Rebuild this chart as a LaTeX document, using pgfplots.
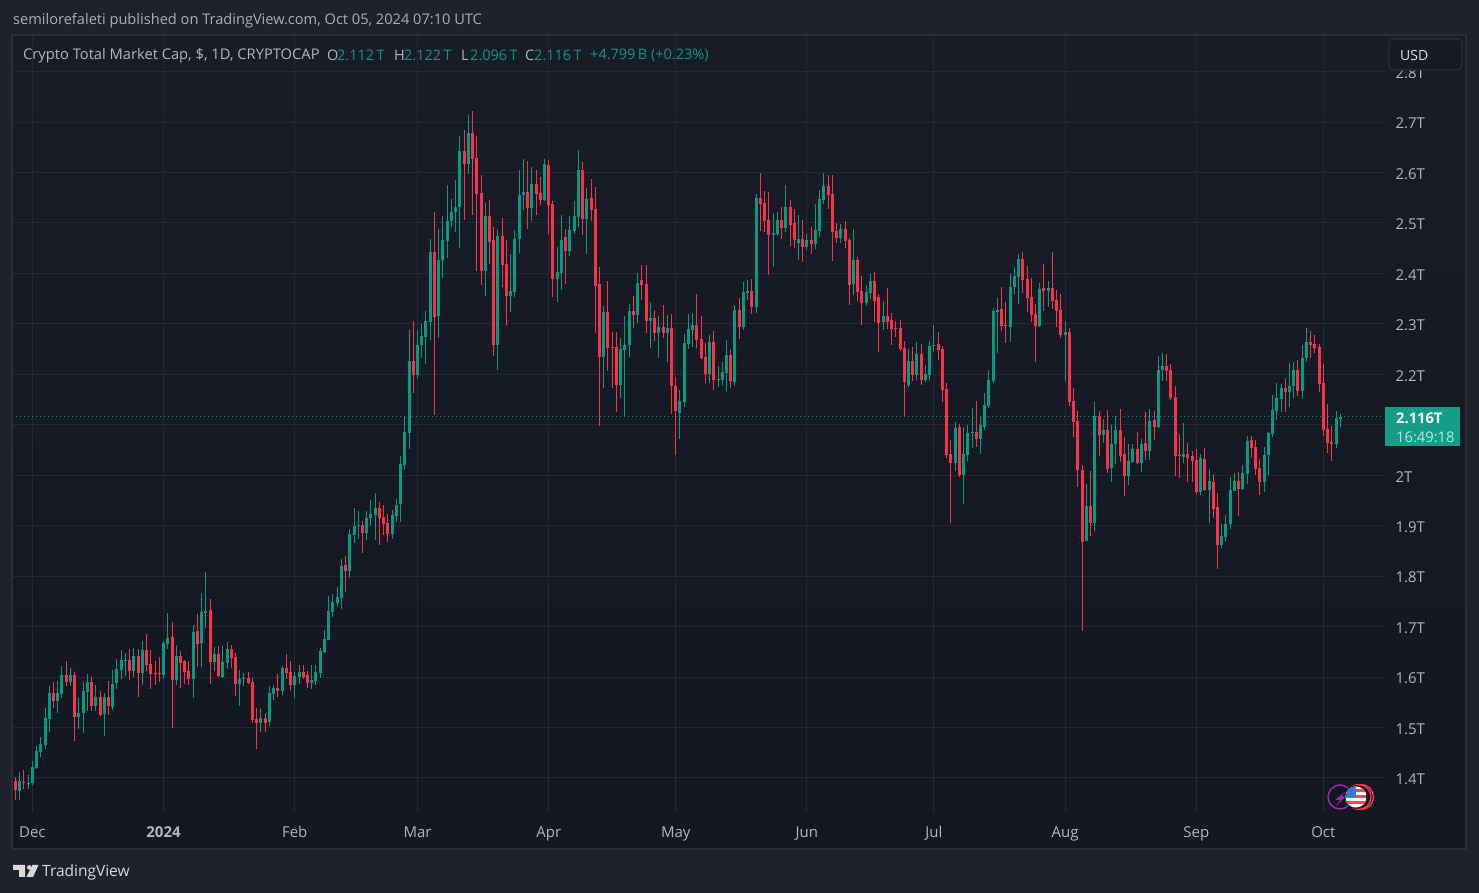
\documentclass[border=0pt]{standalone}
\usepackage{pgfplots}
\usepackage{pgfplotstable}
\usepackage{fontspec}
\setmainfont{Open Sans}
\pgfplotsset{compat=1.18}
\definecolor{outerbg}{HTML}{1E222D}
\definecolor{framec}{HTML}{2A2E39}
\definecolor{gridc}{HTML}{242833}
\definecolor{upc}{HTML}{089981}
\definecolor{dnc}{HTML}{F7324A}
\definecolor{labc}{HTML}{B2B5BE}
\definecolor{innertop}{HTML}{181C27}
\definecolor{innerbot}{HTML}{131722}
\definecolor{evpurple}{HTML}{9C27B0}
\definecolor{flagblue}{HTML}{3278E6}
\definecolor{btnbg}{HTML}{161A25}
\pgfplotstableread{
i o h l c
0 1.395 1.402 1.357 1.377
1 1.375 1.411 1.357 1.395
2 1.393 1.415 1.379 1.391
3 1.389 1.405 1.379 1.391
4 1.391 1.433 1.387 1.421
5 1.419 1.463 1.417 1.453
6 1.451 1.481 1.441 1.467
7 1.465 1.538 1.457 1.518
8 1.516 1.582 1.491 1.568
9 1.568 1.590 1.538 1.552
10 1.552 1.592 1.528 1.568
11 1.566 1.622 1.558 1.604
12 1.604 1.632 1.582 1.590
13 1.590 1.618 1.582 1.604
14 1.604 1.610 1.473 1.520
15 1.520 1.558 1.497 1.528
16 1.528 1.592 1.489 1.572
17 1.570 1.606 1.532 1.590
18 1.590 1.600 1.532 1.542
19 1.542 1.584 1.532 1.560
20 1.560 1.572 1.522 1.524
21 1.526 1.568 1.483 1.560
22 1.560 1.592 1.524 1.542
23 1.540 1.614 1.534 1.586
24 1.588 1.636 1.576 1.616
25 1.614 1.653 1.596 1.634
26 1.632 1.647 1.602 1.634
27 1.634 1.655 1.594 1.612
28 1.612 1.657 1.600 1.641
29 1.641 1.655 1.560 1.608
30 1.608 1.671 1.584 1.653
31 1.653 1.685 1.612 1.624
32 1.626 1.653 1.576 1.606
33 1.608 1.632 1.584 1.606
34 1.608 1.640 1.590 1.606
35 1.604 1.671 1.596 1.667
36 1.665 1.727 1.655 1.677
37 1.679 1.709 1.500 1.594
38 1.594 1.663 1.584 1.641
39 1.641 1.651 1.578 1.628
40 1.632 1.634 1.586 1.610
41 1.612 1.632 1.584 1.596
42 1.596 1.703 1.558 1.689
43 1.691 1.725 1.620 1.665
44 1.667 1.765 1.620 1.729
45 1.727 1.808 1.697 1.731
46 1.733 1.755 1.586 1.630
47 1.630 1.659 1.612 1.645
48 1.645 1.661 1.600 1.602
49 1.601 1.661 1.599 1.629
50 1.627 1.669 1.616 1.655
51 1.655 1.663 1.618 1.637
52 1.639 1.647 1.562 1.586
53 1.586 1.614 1.542 1.596
54 1.596 1.608 1.582 1.598
55 1.598 1.610 1.586 1.588
56 1.590 1.598 1.508 1.514
57 1.516 1.538 1.457 1.508
58 1.508 1.536 1.491 1.518
59 1.518 1.528 1.491 1.508
60 1.510 1.582 1.503 1.568
61 1.566 1.584 1.554 1.578
62 1.578 1.606 1.560 1.572
63 1.572 1.622 1.564 1.618
64 1.618 1.645 1.596 1.608
65 1.610 1.631 1.572 1.584
66 1.584 1.610 1.558 1.602
67 1.600 1.623 1.586 1.610
68 1.610 1.623 1.596 1.600
69 1.604 1.612 1.578 1.588
70 1.588 1.623 1.576 1.594
71 1.592 1.623 1.584 1.610
72 1.608 1.657 1.598 1.651
73 1.649 1.693 1.647 1.675
74 1.673 1.760 1.673 1.731
75 1.729 1.764 1.719 1.748
76 1.746 1.778 1.738 1.758
77 1.756 1.834 1.735 1.820
78 1.822 1.840 1.768 1.810
79 1.810 1.893 1.796 1.883
80 1.881 1.935 1.865 1.899
81 1.899 1.929 1.873 1.901
82 1.901 1.909 1.846 1.885
83 1.885 1.929 1.871 1.915
84 1.915 1.951 1.899 1.923
85 1.921 1.965 1.871 1.935
86 1.935 1.947 1.861 1.915
87 1.917 1.941 1.881 1.903
88 1.905 1.923 1.867 1.883
89 1.883 1.931 1.873 1.921
90 1.919 1.953 1.907 1.941
91 1.943 2.038 1.907 2.022
92 2.020 2.115 2.010 2.086
93 2.083 2.287 2.051 2.226
94 2.226 2.305 2.162 2.198
95 2.198 2.287 2.190 2.259
96 2.259 2.299 2.232 2.275
97 2.273 2.325 2.220 2.305
98 2.303 2.468 2.269 2.442
99 2.442 2.522 2.120 2.313
100 2.315 2.488 2.271 2.426
101 2.426 2.514 2.390 2.466
102 2.464 2.575 2.430 2.504
103 2.504 2.547 2.492 2.522
104 2.522 2.585 2.482 2.532
105 2.532 2.673 2.450 2.643
106 2.643 2.684 2.506 2.617
107 2.617 2.714 2.597 2.678
108 2.678 2.722 2.516 2.627
109 2.629 2.673 2.404 2.557
110 2.559 2.595 2.377 2.404
111 2.404 2.539 2.355 2.514
112 2.514 2.545 2.418 2.462
113 2.466 2.492 2.236 2.259
114 2.259 2.488 2.208 2.474
115 2.474 2.510 2.373 2.416
116 2.418 2.466 2.295 2.355
117 2.355 2.438 2.323 2.365
118 2.363 2.486 2.353 2.468
119 2.468 2.605 2.440 2.555
120 2.555 2.627 2.526 2.561
121 2.561 2.623 2.488 2.530
122 2.530 2.611 2.504 2.577
123 2.577 2.605 2.516 2.557
124 2.559 2.591 2.535 2.545
125 2.545 2.627 2.543 2.617
126 2.615 2.625 2.478 2.535
127 2.537 2.543 2.353 2.389
128 2.389 2.452 2.343 2.402
129 2.400 2.516 2.367 2.466
130 2.472 2.488 2.379 2.444
131 2.444 2.514 2.434 2.486
132 2.484 2.543 2.478 2.514
133 2.512 2.645 2.492 2.605
134 2.605 2.621 2.476 2.508
135 2.508 2.569 2.438 2.547
136 2.549 2.587 2.504 2.526
137 2.527 2.571 2.281 2.375
138 2.379 2.412 2.097 2.234
139 2.234 2.335 2.172 2.323
140 2.323 2.385 2.206 2.252
141 2.254 2.283 2.172 2.252
142 2.254 2.283 2.125 2.178
143 2.178 2.272 2.153 2.250
144 2.248 2.315 2.115 2.258
145 2.258 2.339 2.234 2.325
146 2.325 2.355 2.291 2.317
147 2.317 2.400 2.301 2.381
148 2.387 2.416 2.347 2.377
149 2.379 2.416 2.281 2.305
150 2.305 2.343 2.252 2.311
151 2.311 2.327 2.266 2.281
152 2.281 2.315 2.232 2.293
153 2.293 2.337 2.272 2.281
154 2.281 2.317 2.224 2.291
155 2.291 2.319 2.121 2.176
156 2.176 2.194 2.041 2.127
157 2.123 2.168 2.071 2.147
158 2.145 2.279 2.135 2.262
159 2.260 2.319 2.250 2.289
160 2.287 2.321 2.254 2.297
161 2.297 2.359 2.252 2.268
162 2.270 2.315 2.230 2.232
163 2.234 2.262 2.182 2.200
164 2.200 2.277 2.182 2.264
165 2.264 2.285 2.168 2.188
166 2.188 2.216 2.174 2.190
167 2.188 2.224 2.178 2.204
168 2.202 2.268 2.164 2.238
169 2.238 2.250 2.172 2.186
170 2.184 2.337 2.176 2.327
171 2.327 2.351 2.270 2.293
172 2.293 2.383 2.287 2.363
173 2.361 2.387 2.347 2.365
174 2.365 2.389 2.319 2.333
175 2.333 2.557 2.321 2.549
176 2.549 2.599 2.484 2.537
177 2.539 2.563 2.482 2.504
178 2.506 2.561 2.396 2.476
179 2.476 2.519 2.412 2.480
180 2.478 2.521 2.474 2.506
181 2.506 2.531 2.468 2.490
182 2.490 2.575 2.482 2.531
183 2.531 2.545 2.454 2.496
184 2.500 2.527 2.450 2.466
185 2.460 2.515 2.426 2.468
186 2.468 2.506 2.422 2.452
187 2.452 2.478 2.446 2.466
188 2.466 2.492 2.438 2.458
189 2.458 2.537 2.448 2.486
190 2.484 2.565 2.472 2.547
191 2.545 2.599 2.537 2.573
192 2.573 2.595 2.527 2.555
193 2.557 2.595 2.424 2.482
194 2.484 2.500 2.460 2.470
195 2.470 2.498 2.460 2.488
196 2.488 2.504 2.450 2.464
197 2.466 2.470 2.337 2.377
198 2.379 2.488 2.357 2.426
199 2.426 2.432 2.345 2.363
200 2.365 2.394 2.297 2.341
201 2.341 2.377 2.335 2.363
202 2.361 2.398 2.349 2.385
203 2.385 2.402 2.303 2.345
204 2.353 2.359 2.244 2.301
205 2.303 2.345 2.287 2.315
206 2.315 2.371 2.289 2.303
207 2.307 2.321 2.258 2.289
208 2.291 2.305 2.274 2.289
209 2.291 2.307 2.246 2.250
210 2.252 2.266 2.116 2.184
211 2.178 2.250 2.174 2.226
212 2.226 2.254 2.186 2.198
213 2.198 2.264 2.188 2.240
214 2.240 2.260 2.178 2.188
215 2.188 2.218 2.184 2.200
216 2.198 2.266 2.186 2.256
217 2.256 2.297 2.244 2.258
218 2.260 2.283 2.228 2.248
219 2.250 2.256 2.145 2.168
220 2.170 2.182 2.034 2.041
221 2.043 2.069 1.905 2.024
222 2.024 2.105 2.008 2.093
223 2.095 2.101 1.996 2.000
224 2.000 2.095 1.942 2.043
225 2.041 2.099 2.028 2.083
226 2.083 2.133 2.053 2.085
227 2.085 2.147 2.055 2.071
228 2.071 2.117 2.043 2.099
229 2.095 2.162 2.089 2.139
230 2.137 2.208 2.133 2.188
231 2.186 2.331 2.182 2.325
232 2.323 2.351 2.242 2.327
233 2.329 2.373 2.285 2.295
234 2.297 2.343 2.263 2.295
235 2.293 2.398 2.265 2.374
236 2.374 2.412 2.359 2.394
237 2.392 2.438 2.339 2.428
238 2.428 2.442 2.361 2.386
239 2.388 2.414 2.323 2.351
240 2.353 2.390 2.303 2.317
241 2.319 2.339 2.224 2.295
242 2.295 2.380 2.293 2.369
243 2.371 2.418 2.325 2.365
244 2.365 2.384 2.333 2.372
245 2.372 2.442 2.329 2.345
246 2.347 2.367 2.293 2.325
247 2.327 2.359 2.271 2.277
248 2.277 2.305 2.186 2.283
249 2.283 2.291 2.137 2.146
250 2.148 2.172 2.075 2.105
251 2.107 2.127 1.976 2.010
252 2.010 2.020 1.692 1.867
253 1.869 1.982 1.869 1.940
254 1.940 2.008 1.879 1.905
255 1.905 2.146 1.889 2.117
256 2.117 2.127 2.039 2.079
257 2.079 2.111 2.063 2.089
258 2.089 2.129 2.004 2.012
259 2.014 2.099 1.986 2.061
260 2.061 2.117 2.022 2.089
261 2.089 2.131 2.027 2.039
262 2.043 2.075 1.958 1.998
263 1.998 2.061 1.980 2.029
264 2.027 2.061 2.024 2.051
265 2.051 2.085 2.022 2.025
266 2.025 2.071 2.006 2.061
267 2.063 2.125 2.031 2.049
268 2.049 2.131 2.031 2.107
269 2.109 2.127 2.069 2.095
270 2.095 2.236 2.093 2.208
271 2.208 2.242 2.186 2.216
272 2.216 2.240 2.186 2.206
273 2.208 2.220 2.150 2.154
274 2.156 2.176 1.998 2.039
275 2.041 2.081 1.994 2.039
276 2.037 2.103 2.024 2.043
277 2.043 2.063 1.986 2.035
278 2.039 2.048 1.987 2.029
279 2.031 2.052 1.963 1.967
280 1.967 2.042 1.961 2.035
281 2.033 2.054 1.969 1.971
282 1.971 2.013 1.906 1.989
283 1.987 2.003 1.916 1.933
284 1.937 1.965 1.814 1.862
285 1.862 1.904 1.856 1.880
286 1.878 1.922 1.870 1.904
287 1.904 1.997 1.894 1.971
288 1.969 2.005 1.969 1.989
289 1.989 2.007 1.920 1.973
290 1.973 2.021 1.971 2.005
291 2.003 2.078 1.983 2.068
292 2.070 2.078 2.035 2.054
293 2.056 2.070 2.001 2.013
294 2.015 2.033 1.961 1.987
295 1.987 2.056 1.967 2.041
296 2.041 2.086 2.001 2.084
297 2.082 2.159 2.076 2.130
298 2.128 2.183 2.110 2.154
299 2.152 2.181 2.126 2.173
300 2.173 2.193 2.126 2.165
301 2.165 2.223 2.136 2.177
302 2.177 2.225 2.154 2.209
303 2.209 2.229 2.157 2.167
304 2.167 2.259 2.152 2.233
305 2.233 2.292 2.225 2.265
306 2.265 2.286 2.233 2.259
307 2.261 2.278 2.243 2.253
308 2.255 2.261 2.165 2.181
309 2.183 2.221 2.078 2.090
310 2.092 2.142 2.044 2.064
311 2.066 2.098 2.029 2.062
312 2.062 2.128 2.054 2.114
313 2.112 2.122 2.096 2.116
}\candles
\newcommand{\sz}[1]{\fontsize{#1}{#1}\selectfont}
\begin{document}
\begin{tikzpicture}
\path[use as bounding box,fill=outerbg] (0,0) rectangle (1479pt,893pt);
\begin{scope}[x=1pt,y=-1pt,shift={(0,893pt)}]
\shade[top color=innertop,bottom color=innerbot] (12,35) rectangle (1466,849);
\end{scope}
\begin{axis}[
  at={(12pt,80pt)},anchor=south west,scale only axis,
  width=1372pt,height=778pt,
  xmin=-0.803,xmax=323.33,ymin=1.3306,ymax=2.8725,
  axis line style={draw=none},
  major tick length=0pt,
  xtick={4,35,66,95,126,156,187,217,248,279,309},
  xticklabels={Dec,{\bfseries 2024},Feb,Mar,Apr,May,Jun,Jul,Aug,Sep,Oct},
  ytick={1.4,1.5,1.6,1.7,1.8,1.9,2.0,2.1,2.2,2.3,2.4,2.5,2.6,2.7,2.8},
  yticklabels={1.4T,1.5T,1.6T,1.7T,1.8T,1.9T,2T,,2.2T,2.3T,2.4T,2.5T,2.6T,2.7T,2.8T},
  yticklabel pos=right,
  xmajorgrids,ymajorgrids,
  grid style={draw=gridc,line width=1pt},
  tick label style={text=labc,font=\sz{15}},
  yticklabel style={anchor=west,xshift=8pt,yshift=-1.5pt},
  xticklabel style={anchor=base,yshift=-24.5pt},
  clip=true,
]
% wicks
\addplot[draw=none,no markers,error bars/.cd,y dir=both,y explicit,error mark=none,
  error bar style={draw=upc,line width=1pt}]
  table[x=i,y expr={ifthenelse(\thisrow{c}>=\thisrow{o},\thisrow{c},nan)},
  y error plus expr={\thisrow{h}-\thisrow{c}},y error minus expr={\thisrow{c}-\thisrow{l}}] {\candles};
\addplot[draw=none,no markers,error bars/.cd,y dir=both,y explicit,error mark=none,
  error bar style={draw=dnc,line width=1pt}]
  table[x=i,y expr={ifthenelse(\thisrow{c}<\thisrow{o},\thisrow{c},nan)},
  y error plus expr={\thisrow{h}-\thisrow{c}},y error minus expr={\thisrow{c}-\thisrow{l}}] {\candles};
% bodies
\addplot[draw=none,no markers,error bars/.cd,y dir=plus,y explicit,error mark=none,
  error bar style={draw=upc,line width=3pt}]
  table[x=i,y expr={ifthenelse(\thisrow{c}>=\thisrow{o},\thisrow{o},nan)},
  y error plus expr={max(\thisrow{c}-\thisrow{o},0.002)}] {\candles};
\addplot[draw=none,no markers,error bars/.cd,y dir=plus,y explicit,error mark=none,
  error bar style={draw=dnc,line width=3pt}]
  table[x=i,y expr={ifthenelse(\thisrow{c}<\thisrow{o},\thisrow{c},nan)},
  y error plus expr={max(\thisrow{o}-\thisrow{c},0.002)}] {\candles};
% last price line
\addplot[draw=upc,line width=0.8pt,dash pattern=on 1pt off 3pt] coordinates {(-0.803,2.116) (323.33,2.116)};
\end{axis}
\begin{scope}[x=1pt,y=-1pt,shift={(0,893pt)}]
\draw[framec,line width=1.5pt] (12,35) rectangle (1466,849);
% header texts
\node[anchor=west,inner sep=0,text=labc!110,font=\sz{14.6}] at (13,20.5) {semilorefaleti published on TradingView.com, Oct 05, 2024 07:10 UTC};
\node[anchor=west,inner sep=0,text=labc,font=\sz{14.7}] at (23,55.5) {Crypto Total Market Cap, \$, 1D, CRYPTOCAP};
\node[anchor=west,inner sep=0,text=labc,font=\sz{14.5}] at (327,55.5) {O};
\node[anchor=west,inner sep=0,text=upc,font=\sz{14.5}] at (337,55.5) {2.112\,T};
\node[anchor=west,inner sep=0,text=labc,font=\sz{14.5}] at (394,55.5) {H};
\node[anchor=west,inner sep=0,text=upc,font=\sz{14.5}] at (404,55.5) {2.122\,T};
\node[anchor=west,inner sep=0,text=labc,font=\sz{14.5}] at (461,55.5) {L};
\node[anchor=west,inner sep=0,text=upc,font=\sz{14.5}] at (470,55.5) {2.096\,T};
\node[anchor=west,inner sep=0,text=labc,font=\sz{14.5}] at (525,55.5) {C};
\node[anchor=west,inner sep=0,text=upc,font=\sz{14.5}] at (534,55.5) {2.116\,T};
\node[anchor=west,inner sep=0,text=upc,font=\sz{14.5}] at (590,55.5) {+4.799\,B (+0.23\%)};
% USD button
\draw[fill=btnbg,draw=framec,line width=1.2pt,rounded corners=4pt] (1389,39) rectangle (1462,70);
\node[anchor=west,inner sep=0,text=white!88!black,font=\sz{14}] at (1400,56) {USD};
% price label
\fill[upc!95!white] (1385,407) rectangle (1460,446);
\node[anchor=west,inner sep=0,text=white,font=\sz{14.7}\bfseries] at (1396,418.5) {2.116T};
\node[anchor=west,inner sep=0,text=white!75!upc,font=\sz{14.7}] at (1396,437) {16:49:18};
% event icons
\draw[evpurple,line width=1.5pt] (1340,797) circle (12);
\fill[evpurple] (1346,791)--(1335,800)--(1340,800)--(1336,806)--(1346,796)--(1341,796)--cycle;
\draw[dnc,line width=1.4pt] (1361,797) circle (12.5);
\draw[dnc,line width=1.4pt] (1358.5,797) circle (12.5);
\draw[black!85,line width=1.2pt] (1356,797) circle (11.5);
\begin{scope}
\clip (1356,797) circle (10.5);
\fill[white] (1345,786) rectangle (1367,808);
\fill[dnc!90] (1345,789) rectangle (1367,792);
\fill[dnc!90] (1345,795) rectangle (1367,798);
\fill[dnc!90] (1345,801) rectangle (1367,804);
\fill[flagblue] (1345,786) rectangle (1356,797);
\end{scope}
% logo
\fill[white!85!black] (13,865)--(25,865)--(25,877)--(19,877)--(19,870)--(13,870)--cycle;
\fill[white!85!black] (29.3,867.4) circle (2.3);
\fill[white!85!black] (32.5,865)--(38.5,865)--(33,877)--(26.5,877)--cycle;
\node[anchor=west,inner sep=0,text=white!85!black,font=\sz{15.5}] at (42,872.5) {TradingView};
\end{scope}
\end{tikzpicture}
\end{document}
